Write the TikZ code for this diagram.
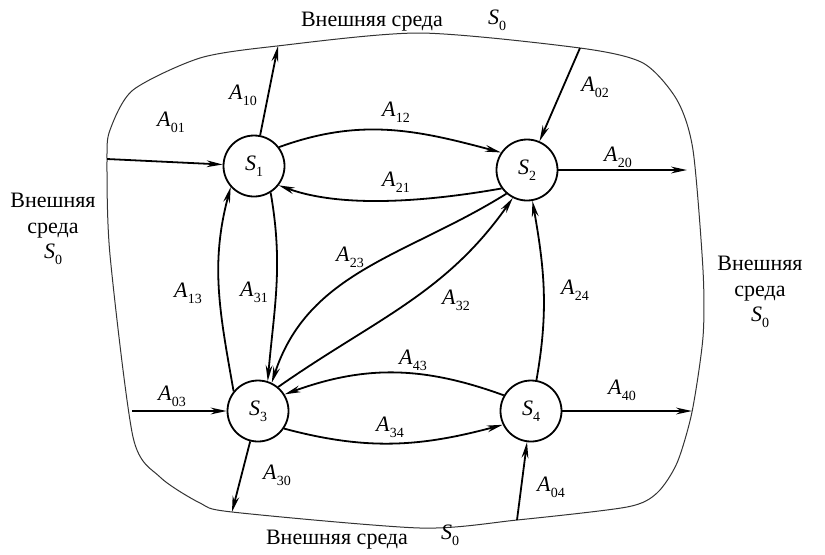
\documentclass[tikz,border=0pt]{standalone}
\usepackage{fontspec}
\setmainfont{Liberation Serif}
\usetikzlibrary{positioning,arrows.meta}
\newcommand{\vsub}[2]{\textit{#1}\raisebox{-0.6ex}{\scriptsize #2}}

\begin{document}
\begin{tikzpicture}[x=0.5pt,y=-0.5pt,
  font=\fontsize{11}{12.6}\selectfont,
  st/.style={draw,circle,line width=0.9pt,minimum size=30.5pt,inner sep=0pt},
  lbl/.style={inner sep=0pt},
  env/.style={align=center,inner sep=0pt},
  flow/.style={line width=0.9pt,-{Stealth[length=8pt,width=3.4pt]}}]
\useasboundingbox (0,0) rectangle (825,554);
% outer boundary
\draw[line width=0.5pt,black!80] plot[smooth cycle,tension=0.45] coordinates {
  (107,160) (110,255) (133,437) (160,477) (200,503) (232,512) (420,528)
  (517,520) (627,507) (657,493) (677,463) (692,412) (703,337) (703,270)
  (693,150) (677,100) (643,63) (580,48) (420,33) (277,46) (200,58)
  (133,90) (110,130)};
\node[st] (S1) at (254,166) {\vsub{S}{1}};
\node[st] (S2) at (527,170) {\vsub{S}{2}};
\node[st] (S3) at (258,411) {\vsub{S}{3}};
\node[st] (S4) at (531,411) {\vsub{S}{4}};
\coordinate (b10) at (278,46);
\coordinate (b01) at (107,159);
\coordinate (b02) at (580,48);
\coordinate (b20) at (687,170);
\coordinate (b03) at (132,411);
\coordinate (b30) at (232,512);
\coordinate (b04) at (517,520);
\coordinate (b40) at (692,411);
% flows to and from the environment
\draw[flow] (S1)--(b10);\draw[flow] (b01)--(S1);
\draw[flow] (b02)--(S2);\draw[flow] (S2)--(b20);
\draw[flow] (b03)--(S3);\draw[flow] (S3)--(b30);
\draw[flow] (b04)--(S4);\draw[flow] (S4)--(b40);
% flows between the states
\draw[flow] (S1.37) to[out=20,in=165] (S2.146);
\draw[flow] (S2.216) to[out=190,in=-20,looseness=0.8] (S1.-38);
\draw[flow] (S3.141) to[out=100,in=255] (S1.222);
\draw[flow] (S1.-58) to[out=-80,in=85] (S3.72);
\draw[flow] (S2.229) to[out=212,in=72] (S3.64);
\draw[flow] (S3.50) to[out=35,in=235] (S2.243);
\draw[flow] (S4.80) to[out=80,in=-80] (S2.-80);
\draw[flow] (S4.150) to[out=160,in=20] (S3.32);
\draw[flow] (S3.-34) to[out=-15,in=195] (S4.206);
% labels
\node[lbl] (l10) at (243,95) {\vsub{A}{10}};
\node[lbl] (l01) at (171,122) {\vsub{A}{01}};
\node[lbl] (l12) at (396,112) {\vsub{A}{12}};
\node[lbl] (l21) at (396,182) {\vsub{A}{21}};
\node[lbl] (l02) at (595,87) {\vsub{A}{02}};
\node[lbl] (l20) at (618,157) {\vsub{A}{20}};
\node[lbl] (l23) at (350,257) {\vsub{A}{23}};
\node[lbl] (l32) at (456,300) {\vsub{A}{32}};
\node[lbl] (l13) at (188,293) {\vsub{A}{13}};
\node[lbl] (l31) at (254,292) {\vsub{A}{31}};
\node[lbl] (l24) at (575,290) {\vsub{A}{24}};
\node[lbl] (l43) at (413,360) {\vsub{A}{43}};
\node[lbl] (l34) at (390,427) {\vsub{A}{34}};
\node[lbl] (l03) at (172,396) {\vsub{A}{03}};
\node[lbl] (l30) at (277,475) {\vsub{A}{30}};
\node[lbl] (l40) at (622,390) {\vsub{A}{40}};
\node[lbl] (l04) at (551,487) {\vsub{A}{04}};
% environment
\node[env] (top) at (372,22) {Внешняя среда};
\node[env] (topS) at (497,20) {\vsub{S}{0}};
\node[env] (bot) at (337,540) {Внешняя среда};
\node[env] (botS) at (450,535) {\vsub{S}{0}};
\node[env] (left) at (53,229) {Внешняя\\среда\\\vsub{S}{0}};
\node[env] (right) at (760,292) {Внешняя\\среда\\\vsub{S}{0}};
\end{tikzpicture}
\end{document}
